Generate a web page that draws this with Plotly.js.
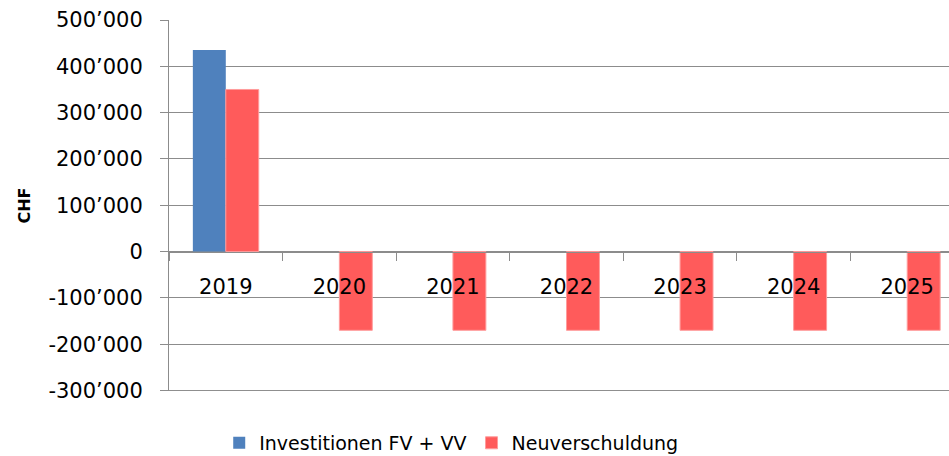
<!DOCTYPE html>
<html>
<head>
<meta charset="utf-8">
<script src="https://cdn.plot.ly/plotly-3.0.1.min.js"></script>
<style>
html,body{margin:0;padding:0;overflow:hidden;background:#fff;width:949px;height:456px;}
#chart{width:964px;height:456px;}
</style>
</head>
<body>
<div id="chart"></div>
<script>
const years = ["2019","2020","2021","2022","2023","2024","2025"];
const investitionen = [435000, null, null, null, null, null, null];
const neuverschuldung = [350000, -170000, -170000, -170000, -170000, -170000, -170000];
const yTickVals = [500000, 400000, 300000, 200000, 100000, 0, -100000, -200000, -300000];
const yTickText = ["500’000","400’000","300’000","200’000","100’000","0","-100’000","-200’000","-300’000"];
const seriesNames = ["Investitionen FV + VV", "Neuverschuldung"];

const grid = "#8c8c8c";
const font = "DejaVu Sans, sans-serif";
const yMin = Math.min(...yTickVals), yMax = Math.max(...yTickVals);

const traces = [
  {type:"bar", x:years, y:investitionen, name:seriesNames[0],
   marker:{color:"#4F81BD"}, hoverinfo:"skip"},
  {type:"bar", x:years, y:neuverschuldung, name:seriesNames[1],
   marker:{color:"#FF5B5B", line:{color:"#FF9C9C", width:1}}, hoverinfo:"skip"}
];

const layout = {
  width:964, height:456,
  margin:{l:169, r:0, t:20, b:65, autoexpand:false},
  paper_bgcolor:"#fff", plot_bgcolor:"#fff",
  barmode:"group", bargap:0.42, bargroupgap:0,
  font:{family:font, size:21, color:"#000"},
  showlegend:true,
  legend:{orientation:"h", x:0.355, xanchor:"center", y:-0.14, yanchor:"middle",
          font:{family:font, size:19, color:"#000"}, itemwidth:30, tracegroupgap:0},
  xaxis:{type:"category", anchor:"free", position:(391-252)/371,
         showline:true, linecolor:grid, linewidth:1,
         ticks:"outside", tickson:"boundaries", ticklen:8, tickcolor:grid, tickwidth:1,
         ticklabelstandoff:16,
         showgrid:false, zeroline:false,
         tickfont:{family:font, size:21, color:"#000"}},
  yaxis:{range:[yMin-1000, yMax], tickvals:yTickVals, ticktext:yTickText,
         showline:true, linecolor:grid, linewidth:1,
         ticks:"outside", ticklen:8, tickcolor:grid, tickwidth:1,
         ticklabelstandoff:13,
         showgrid:true, gridcolor:grid, gridwidth:1,
         zeroline:true, zerolinecolor:grid, zerolinewidth:1,
         tickfont:{family:font, size:21, color:"#000"},
         title:{text:"CHF", standoff:13, font:{family:font, size:16, color:"#000", weight:"bold"}}},
  shapes:[{type:"line", xref:"paper", x0:0, x1:1, yref:"y", y0:yMin, y1:yMin,
           line:{color:grid, width:1}, layer:"below"}]
};

Plotly.newPlot("chart", traces, layout, {displayModeBar:false, staticPlot:true});
</script>
</body>
</html>
